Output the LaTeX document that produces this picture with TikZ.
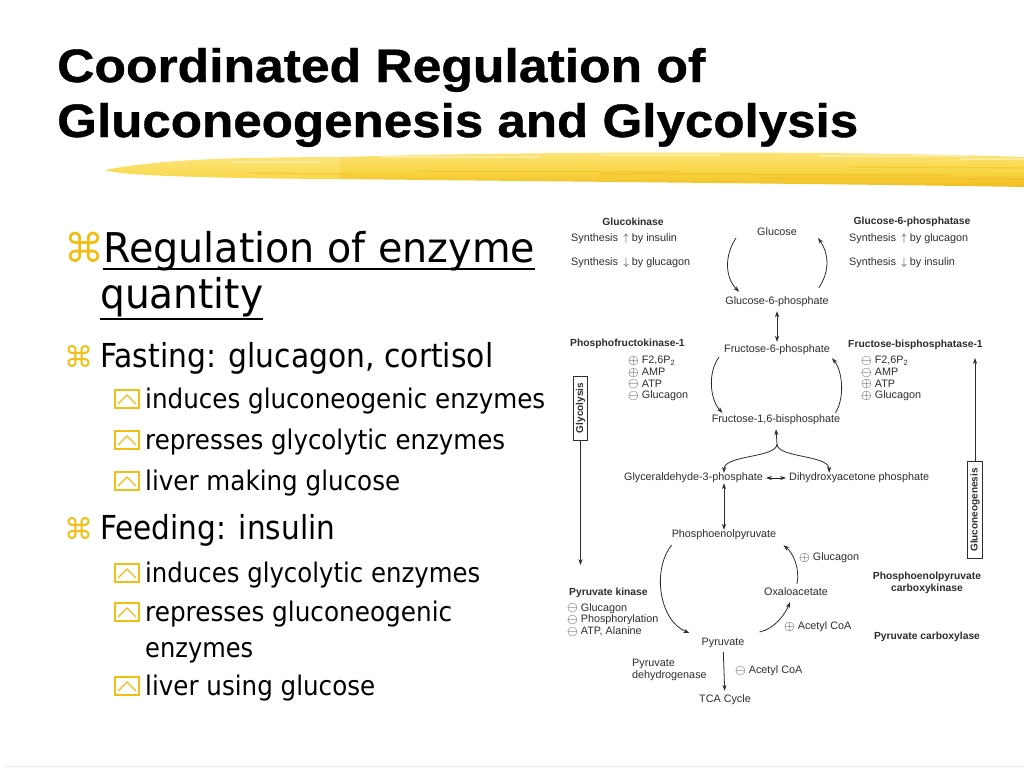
\documentclass[tikz,border=0pt]{standalone}
\usepackage{fontspec}
\usepackage{graphicx}
\usepackage{amsmath,amssymb}
\usetikzlibrary{arrows.meta}
\setmainfont{DejaVu Sans}
\newfontfamily\titlefont{Liberation Sans}[BoldFeatures={FakeBold=0.8}]
\newfontfamily\figfont{Liberation Sans}
\newfontfamily\symfont{DejaVu Sans}
\definecolor{bulletyellow}{RGB}{240,190,20}
\definecolor{brushlight}{RGB}{249,216,74}
\definecolor{brushdark}{RGB}{240,190,34}
\definecolor{brushhigh}{RGB}{252,228,120}
\definecolor{figgray}{RGB}{45,45,45}
% stretch one line of text to a given width and height
\newcommand{\fitline}[3]{\resizebox{#1pt}{\height}{\fontsize{#2}{#2}\selectfont #3}}
\newcommand{\fitbox}[4]{\resizebox{#1pt}{#2pt}{\fontsize{#3}{#3}\selectfont #4}}
\newcommand{\pl}{\raisebox{-0.6pt}{\scalebox{1.25}{$\oplus$}}}
\newcommand{\mi}{\raisebox{-0.6pt}{\scalebox{1.25}{$\ominus$}}}

\begin{document}
\begin{tikzpicture}[x=1pt, y=-1pt,
  title/.style={font=\titlefont\bfseries, inner sep=0pt, anchor=base west},
  body/.style={inner sep=0pt, anchor=base west},
  cmd/.style={font=\symfont, text=bulletyellow, inner sep=0pt, anchor=base west},
  bulletbox/.style={draw=bulletyellow, line width=1.6pt},
  lbl/.style={font=\figfont\fontsize{10.8}{11.7}\selectfont, text=figgray, inner sep=0pt, align=left},
  enz/.style={font=\figfont\bfseries\fontsize{10.3}{11.8}\selectfont, text=figgray, inner sep=0pt, align=center},
  flow/.style={-{Stealth[length=6pt,width=4.2pt]}, line width=0.8pt, figgray},
  both/.style={{Stealth[length=6pt,width=4.2pt]}-{Stealth[length=6pt,width=4.2pt]}, line width=0.8pt, figgray},
  pathbox/.style={draw=figgray, line width=0.9pt, font=\figfont\bfseries\fontsize{10}{10}\selectfont, text=figgray, rotate=90, inner xsep=7pt, inner ysep=2.5pt}]

\fill[white] (0,0) rectangle (1024,768);
\useasboundingbox (0,0) rectangle (1024,768);
\draw[black!8, line width=1pt] (5,766) -- (1024,766);

% -------- brush stroke -----------
\shade[top color=brushhigh, bottom color=brushlight] (105,170) .. controls (140,163) and (190,159) .. (250,158) .. controls (300,157) and (330,157) .. (352,157)
  -- (352,179) .. controls (300,179) and (200,178) .. (150,175) .. controls (125,174) and (110,172) .. (105,170) -- cycle;
\shade[top color=brushhigh, bottom color=brushdark, middle color=brushlight] (340,157) .. controls (550,151) and (850,151) .. (1024,157)
  -- (1024,187) .. controls (850,184) and (600,182) .. (340,179) -- cycle;
\foreach \x/\y/\l in {230/161/90, 380/156/160, 600/154/120, 820/155/150, 960/158/64}
  \fill[white, opacity=.35] (\x,\y) rectangle ++(\l,2);
\foreach \x/\y/\l in {250/173/100, 420/171/260, 600/174/350, 760/178/264, 850/167/174}
  \draw[brushdark!85!orange, opacity=.45, line width=1.4pt] (\x,\y) -- ++(\l,1);

% -------- title -----------
\node[title] (title1) at (57,82) {\fitbox{648}{34}{46}{Coordinated Regulation of}};
\node[title] (title2) at (57,137) {\fitbox{801}{34}{46}{Gluconeogenesis and Glycolysis}};

% -------- left text -----------
\node[cmd] (cmd1) at (64,262) {\fontsize{40}{40}\selectfont ⌘};
\node[body] (reg) at (103,262) {\fitline{432}{41}{Regulation of enzyme}};
\node[body] (qty) at (100,308) {\fitline{163}{41}{quantity}};
\draw[line width=2.2pt] ([yshift=-7pt]reg.base west) -- ([yshift=-7pt]reg.base east);
\draw[line width=2.2pt] ([yshift=-11pt]qty.base west) -- ([yshift=-11pt]qty.base east);

\node[cmd] (cmd2) at (64,367) {\fontsize{29}{29}\selectfont ⌘};
\node[body] (fast) at (100,367) {\fitline{393}{33}{Fasting: glucagon, cortisol}};
\node[cmd] (cmd3) at (64,539) {\fontsize{29}{29}\selectfont ⌘};
\node[body] (feed) at (100,539) {\fitline{235}{33}{Feeding: insulin}};

\foreach \bl/\w/\txt [count=\i] in {408/400/induces gluconeogenic enzymes, 449/360/represses glycolytic enzymes,
    490/255/liver making glucose, 582/335/induces glycolytic enzymes, 621/307/represses gluconeogenic,
    695/230/liver using glucose} {
  \node[body] (sub\i) at (145,\bl) {\fitline{\w}{27}{\txt}};
  \draw[bulletbox] (115,\bl) rectangle ++(24,-18);
  \draw[bulletbox, line width=1.2pt] (118,\bl-4) -- ++(9,-9) -- ++(9,9);
}
\node[body] (sub7) at (145,657) {\fitline{108}{27}{enzymes}};

% -------- pathway -----------
\node[lbl] (glc) at (777,232) {Glucose};
\node[lbl] (g6p) at (777,302) {Glucose-6-phosphate};
\node[lbl] (f6p) at (777,350) {Fructose-6-phosphate};
\node[lbl] (f16bp) at (776,420) {Fructose-1,6-bisphosphate};
\node[lbl, anchor=east] (gap) at (763,478) {Glyceraldehyde-3-phosphate};
\node[lbl, anchor=west] (dhap) at (789,478) {Dihydroxyacetone phosphate};
\node[lbl] (pep) at (724,535) {Phosphoenolpyruvate};
\node[lbl] (oaa) at (796,592) {Oxaloacetate};
\node[lbl] (pyr) at (723,643) {Pyruvate};
\node[lbl] (tca) at (725,700) {TCA Cycle};

% -------- enzymes -----------
\node[enz] (gk) at (633,222) {Glucokinase};
\node[lbl, anchor=west] (gk1) at (571,239) {Synthesis\enspace$\uparrow$ by insulin};
\node[lbl, anchor=west] (gk2) at (571,263) {Synthesis\enspace$\downarrow$ by glucagon};
\node[enz] (g6pase) at (912,222) {Glucose-6-phosphatase};
\node[lbl, anchor=west] (gp1) at (849,239) {Synthesis\enspace$\uparrow$ by glucagon};
\node[lbl, anchor=west] (gp2) at (849,263) {Synthesis\enspace$\downarrow$ by insulin};

\node[enz, anchor=west] (pfk) at (570,344) {Phosphofructokinase-1};
\node[lbl, anchor=north west] (pfkreg) at (628,356) {\pl\ F2,6P\textsubscript{2}\\\pl\ AMP\\\mi\ ATP\\\mi\ Glucagon};
\node[enz, anchor=west] (fbp) at (848,345) {Fructose-bisphosphatase-1};
\node[lbl, anchor=north west] (fbpreg) at (861,356) {\mi\ F2,6P\textsubscript{2}\\\mi\ AMP\\\pl\ ATP\\\pl\ Glucagon};

\node[enz, anchor=west] (pk) at (569,593) {Pyruvate kinase};
\node[lbl, anchor=north west] (pkreg) at (567,603) {\mi\ Glucagon\\\mi\ Phosphorylation\\\mi\ ATP, Alanine};
\node[lbl, anchor=west] (pepckreg) at (799,558) {\pl\ Glucagon};
\node[enz] (pepck) at (927,583) {Phosphoenolpyruvate\\carboxykinase};
\node[lbl, anchor=west] (pcreg) at (784,627) {\pl\ Acetyl CoA};
\node[enz] (pc) at (927,637) {Pyruvate carboxylase};
\node[lbl, anchor=north west] (pdh) at (632,659) {Pyruvate\\dehydrogenase};
\node[lbl, anchor=west] (pdhreg) at (735,671) {\mi\ Acetyl CoA};

\node[pathbox] (gly) at (580.5,408) {Glycolysis};
\node[pathbox] (gng) at (975,510) {Gluconeogenesis};
\coordinate (glyend) at (580.5,565);
\coordinate (gngend) at (975,358);
\coordinate (fork) at (777,444);

% -------- arrows -----------
\draw[flow] ([shift={(-21,6)}]glc.west) .. controls +(-12,18) and +(-14,-14) .. ([shift={(14,-5)}]g6p.north west);
\draw[flow] ([shift={(-10,-9)}]g6p.north east) .. controls +(12,-18) and +(10,14) .. ([shift={(21,6)}]glc.east);
\draw[both, shorten <=4pt, shorten >=3pt] (g6p) -- (f6p);
\draw[flow] ([shift={(-5,2)}]f6p.south west) .. controls +(-12,16) and +(-12,-12) .. ([shift={(11,-2)}]f16bp.north west);
\draw[flow] ([shift={(-5,-2)}]f16bp.north east) .. controls +(10,-16) and +(10,12) .. ([shift={(2,3)}]f6p.south east);
\draw[flow] (fork) -- ([yshift=-4pt]f16bp.south);
\draw[flow] (fork) .. controls +(0,14) and +(0,-18) .. (gap.north -| pep);
\draw[flow] (fork) .. controls +(0,14) and +(0,-18) .. ([xshift=-30pt]dhap.north);
\draw[both, shorten <=3pt, shorten >=3pt] (gap) -- (dhap);
\draw[both] (gap.south -| pep) -- (pep.north);
\draw[flow] ([shift={(0,5)}]pep.south west) .. controls +(-20,25) and +(-30,-12) .. ([shift={(-12,-10)}]pyr.west);
\draw[flow] ([shift={(15,-11)}]pyr.east) .. controls +(15,-3) and +(-5,12) .. ([shift={(-6,6)}]oaa.south);
\draw[flow] ([shift={(1,-4)}]oaa.north) .. controls +(3,-15) and +(10,8) .. ([shift={(7,5)}]pep.south east);
\draw[flow, shorten <=4pt, shorten >=4pt] (pyr) -- (tca);
\draw[flow] (gly.west) -- (glyend);
\draw[flow] (gng.east) -- (gngend);
\end{tikzpicture}
\end{document}
